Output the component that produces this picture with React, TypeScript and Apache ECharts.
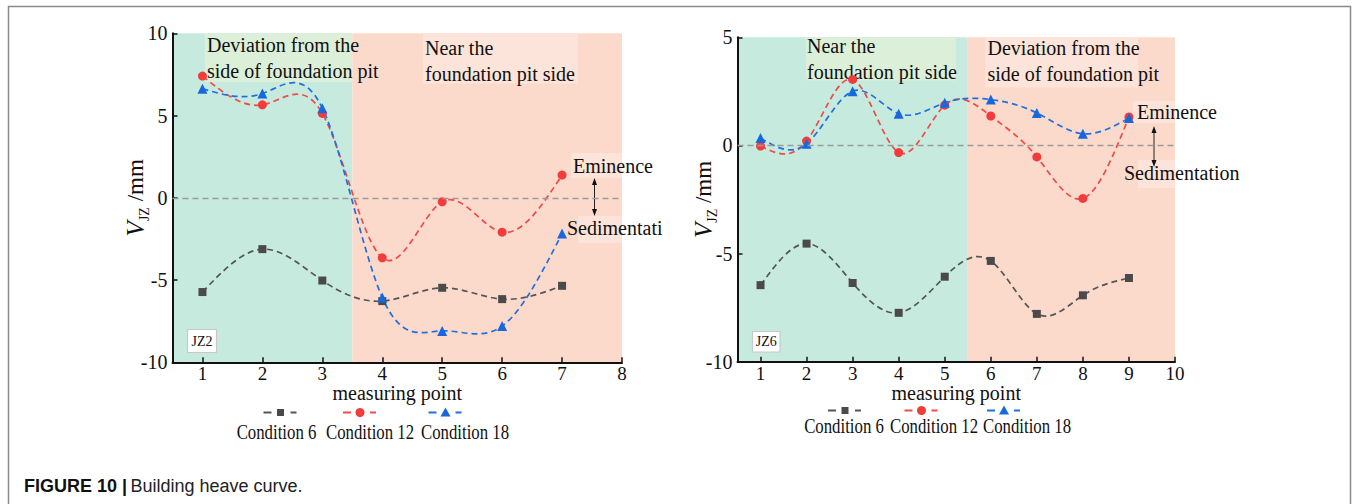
import React, { useEffect, useRef } from "react";
import * as echarts from "echarts";

// ---------- data ----------
const conditionNames = ["Condition 6", "Condition 12", "Condition 18"];

const leftPoints = [1, 2, 3, 4, 5, 6, 7];
const leftCond6 = [-5.73, -3.12, -5.03, -6.28, -5.47, -6.16, -5.35];
const leftCond12 = [7.4, 5.65, 5.13, -3.65, -0.24, -2.09, 1.38];
const leftCond18 = [6.63, 6.34, 5.45, -6.06, -8.09, -7.8, -2.17];
const leftXTicks = [1, 2, 3, 4, 5, 6, 7, 8];

const rightPoints = [1, 2, 3, 4, 5, 6, 7, 8, 9];
const rightCond6 = [-6.46, -4.54, -6.36, -7.74, -6.07, -5.34, -7.79, -6.93, -6.13];
const rightCond12 = [-0.03, 0.2, 3.05, -0.33, 1.86, 1.36, -0.53, -2.45, 1.32];
const rightCond18 = [0.34, 0.08, 2.51, 1.47, 1.97, 2.12, 1.5, 0.54, 1.27];
const rightXTicks = [1, 2, 3, 4, 5, 6, 7, 8, 9, 10];

// ---------- styles ----------
const SERIF = "'Liberation Serif', 'Times New Roman', serif";
const SANS = "'Liberation Sans', Arial, Helvetica, sans-serif";
const lineColors = ["#555555", "#f04a4a", "#1f6fe0"];
const markerColors = ["#4a4a4a", "#f23c3c", "#1668dc"];
const symbols = ["rect", "circle", "triangle"];
const symbolSizes = [8, 9, 10];
const GREEN = "#c6eadd";
const PINK = "#fcdacb";
const GREEN_BOX = "#dcefd8";
const PINK_BOX = "#fde4da";

// natural cubic spline slopes (uniform spacing)
function splineSlopes(xs: number[], ys: number[]): number[] {
  const n = ys.length - 1;
  const h = xs[1] - xs[0];
  const M = new Array(n + 1).fill(0);
  if (n >= 2) {
    const m = n - 1;
    const a: number[] = [], b: number[] = [], c: number[] = [], d: number[] = [];
    for (let i = 1; i < n; i++) {
      a.push(1); b.push(4); c.push(1);
      d.push((6 * (ys[i + 1] - 2 * ys[i] + ys[i - 1])) / (h * h));
    }
    for (let i = 1; i < m; i++) {
      const w = a[i] / b[i - 1];
      b[i] -= w * c[i - 1];
      d[i] -= w * d[i - 1];
    }
    const sol = new Array(m).fill(0);
    sol[m - 1] = d[m - 1] / b[m - 1];
    for (let i = m - 2; i >= 0; i--) sol[i] = (d[i] - c[i] * sol[i + 1]) / b[i];
    for (let i = 1; i < n; i++) M[i] = sol[i - 1];
  }
  const s: number[] = [];
  for (let i = 0; i < n; i++) {
    s.push((ys[i + 1] - ys[i]) / h - (h * (2 * M[i] + M[i + 1])) / 6);
  }
  s.push((ys[n] - ys[n - 1]) / h + (h * (M[n - 1] + 2 * M[n])) / 6);
  return s;
}

function splineSeries(name: string, xs: number[], ys: number[], color: string, axisIndex: number) {
  const slopes = splineSlopes(xs, ys);
  return {
    type: "custom",
    name,
    xAxisIndex: axisIndex,
    yAxisIndex: axisIndex,
    z: 2,
    silent: true,
    data: xs.map((x, i) => [x, ys[i]]),
    encode: { x: 0, y: 1 },
    renderItem: (params: any, api: any) => {
      if (params.dataIndex !== 0) return null;
      const h = xs[1] - xs[0];
      const p0 = api.coord([xs[0], ys[0]]);
      let d = `M${p0[0]},${p0[1]}`;
      for (let i = 0; i < xs.length - 1; i++) {
        const c1 = api.coord([xs[i] + h / 3, ys[i] + (slopes[i] * h) / 3]);
        const c2 = api.coord([xs[i + 1] - h / 3, ys[i + 1] - (slopes[i + 1] * h) / 3]);
        const p = api.coord([xs[i + 1], ys[i + 1]]);
        d += ` C${c1[0]},${c1[1]} ${c2[0]},${c2[1]} ${p[0]},${p[1]}`;
      }
      return {
        type: "path",
        shape: { pathData: d },
        style: { fill: "none", stroke: color, lineWidth: 1.7, lineDash: [6, 4] },
      };
    },
  };
}

function markerSeries(name: string, xs: number[], ys: number[], k: number, axisIndex: number) {
  return {
    type: "scatter",
    name,
    xAxisIndex: axisIndex,
    yAxisIndex: axisIndex,
    z: 3,
    symbol: symbols[k],
    symbolSize: symbolSizes[k],
    itemStyle: { color: markerColors[k], opacity: 1 },
    data: xs.map((x, i) => [x, ys[i]]),
  };
}

function backgroundSeries(axisIndex: number, split: number, max: number) {
  return {
    type: "line",
    xAxisIndex: axisIndex,
    yAxisIndex: axisIndex,
    z: 0,
    silent: true,
    data: [],
    markArea: {
      silent: true,
      z: 0,
      data: [
        [{ xAxis: 0.5, itemStyle: { color: GREEN } }, { xAxis: split }],
        [{ xAxis: split, itemStyle: { color: PINK } }, { xAxis: max }],
      ],
    },
    markLine: {
      silent: true,
      symbol: "none",
      label: { show: false },
      lineStyle: { color: "#9a9a9a", type: [6, 4], width: 1.3 },
      data: [{ yAxis: 0 }],
    },
  };
}

function xAxisOpt(gridIndex: number, max: number, ticks: number[]) {
  return {
    type: "value",
    gridIndex,
    min: 0.5,
    max,
    name: "measuring point",
    nameLocation: "middle",
    nameGap: 21,
    nameMoveOverlap: false,
    nameTextStyle: { fontFamily: SERIF, fontSize: 20, color: "#111", lineHeight: 20 },
    axisLine: { onZero: false, lineStyle: { color: "#111", width: 2 } },
    axisTick: { inside: true, length: 5, customValues: ticks, lineStyle: { color: "#111", width: 1.5 } },
    axisLabel: { customValues: ticks, fontFamily: SERIF, fontSize: 19, lineHeight: 19, color: "#111", margin: 2 },
    splitLine: { show: false },
  };
}

function yAxisOpt(gridIndex: number, min: number, max: number, gap: number) {
  return {
    type: "value",
    gridIndex,
    min,
    max,
    interval: 5,
    name: "{v|V}{s|JZ}{m| /mm}",
    nameLocation: "middle",
    nameRotate: 90,
    nameGap: gap,
    nameMoveOverlap: false,
    nameTextStyle: {
      color: "#111",
      rich: {
        v: { fontFamily: SERIF, fontStyle: "italic", fontSize: 25, color: "#111" },
        s: { fontFamily: SERIF, fontSize: 14, color: "#111", verticalAlign: "bottom", padding: [0, 0, -4, 0] },
        m: { fontFamily: SERIF, fontSize: 23, color: "#111" },
      },
    },
    axisLine: { show: true, onZero: false, lineStyle: { color: "#111", width: 2 } },
    axisTick: { show: true, inside: true, length: 5, lineStyle: { color: "#111", width: 1.5 } },
    axisLabel: { fontFamily: SERIF, fontSize: 20, color: "#111", margin: 5 },
    splitLine: { show: false },
  };
}

function textEl(text: string, x: number, y: number, extra: any = {}) {
  return {
    type: "text",
    x,
    y,
    z: 1,
    silent: true,
    style: {
      text,
      fontFamily: SERIF,
      fontSize: 20,
      lineHeight: 25.5,
      fill: "#111",
      textAlign: "left",
      textVerticalAlign: "middle",
      ...extra,
    },
  };
}

function boxEl(x: number, y: number, w: number, h: number, color: string) {
  return { type: "rect", z: 1, silent: true, shape: { x, y, width: w, height: h }, style: { fill: color } };
}

function arrowEls(x: number, y1: number, y2: number) {
  return [
    { type: "line", z: 1, silent: true, shape: { x1: x, y1: y1 + 4, x2: x, y2: y2 - 4 }, style: { stroke: "#222", lineWidth: 1 } },
    { type: "polygon", z: 1, silent: true, shape: { points: [[x, y1], [x - 2.5, y1 + 7], [x + 2.5, y1 + 7]] }, style: { fill: "#111" } },
    { type: "polygon", z: 1, silent: true, shape: { points: [[x, y2], [x - 2.5, y2 - 7], [x + 2.5, y2 - 7]] }, style: { fill: "#111" } },
  ];
}

function labelBox(text: string, x: number, y: number, w: number, h: number) {
  return [
    { type: "rect", z: 1, silent: true, shape: { x, y, width: w, height: h }, style: { fill: "#fff", stroke: "#c8c8c8", lineWidth: 1.2 } },
    textEl(text, x + w / 2, y + h / 2, { fontSize: 14, textAlign: "center" }),
  ];
}

function legendEls(cx: number[], lineY: number, labelCx: number[], labelY: number) {
  const els: any[] = [];
  cx.forEach((c, k) => {
    const col = lineColors[k];
    els.push({ type: "line", silent: true, shape: { x1: c - 17, y1: lineY, x2: c - 9, y2: lineY }, style: { stroke: col, lineWidth: 2 } });
    els.push({ type: "line", silent: true, shape: { x1: c + 10, y1: lineY, x2: c + 16, y2: lineY }, style: { stroke: col, lineWidth: 2 } });
    if (k === 0) {
      els.push({ type: "rect", silent: true, shape: { x: c - 3.5, y: lineY - 3.5, width: 7, height: 7 }, style: { fill: markerColors[0] } });
    } else if (k === 1) {
      els.push({ type: "circle", silent: true, shape: { cx: c, cy: lineY, r: 4.5 }, style: { fill: markerColors[1] } });
    } else {
      els.push({ type: "polygon", silent: true, shape: { points: [[c, lineY - 5], [c - 5, lineY + 4], [c + 5, lineY + 4]] }, style: { fill: markerColors[2] } });
    }
    els.push({
      type: "text",
      silent: true,
      x: labelCx[k],
      y: labelY,
      scaleX: 0.8,
      style: { text: conditionNames[k], fontFamily: SERIF, fontSize: 21, fill: "#111", textAlign: "center", textVerticalAlign: "middle" },
    });
  });
  return els;
}

export default function App() {
  const ref = useRef<HTMLDivElement>(null);

  useEffect(() => {
    if (!ref.current) return;
    const chart = echarts.init(ref.current, undefined, { renderer: "svg" });

    const graphics: any[] = [
      // frame
      { type: "rect", silent: true, shape: { x: 8.5, y: 6.5, width: 1342, height: 600 }, style: { fill: "none", stroke: "#8a8a8a", lineWidth: 1.5 } },
      // left annotations
      boxEl(205, 33.5, 147, 48.5, GREEN_BOX),
      textEl("Deviation from the\nside of foundation pit", 207, 57.8),
      boxEl(423, 33.5, 155, 50, PINK_BOX),
      textEl("Near the\nfoundation pit side", 425, 60.8),
      boxEl(571, 153, 51, 25, PINK_BOX),
      boxEl(578, 216, 44, 27, PINK_BOX),
      textEl("Eminence", 573, 166),
      textEl("Sedimentation", 567, 228, { width: 99, overflow: "truncate", ellipsis: "" }),
      ...arrowEls(594.5, 178, 216),
      ...labelBox("JZ2", 187.5, 329.5, 29, 23),
      // right annotations
      boxEl(806, 37.5, 150, 43, GREEN_BOX),
      textEl("Near the\nfoundation pit side", 807, 59.2),
      boxEl(985, 37.5, 153, 50, PINK_BOX),
      textEl("Deviation from the\nside of foundation pit", 987.5, 60.8),
      boxEl(1133, 101, 42, 22, PINK_BOX),
      boxEl(1138, 160, 37, 28, PINK_BOX),
      textEl("Eminence", 1137, 112.3),
      textEl("Sedimentation", 1124, 173.3),
      ...arrowEls(1154, 126, 167),
      ...labelBox("JZ6", 752.5, 331.5, 27.5, 20.5),
      // legends
      ...legendEls([280.5, 360, 445.5], 412.5, [276.5, 370, 465], 432),
      ...legendEls([845, 921.5, 1004], 410.5, [844, 934, 1027], 426),
      // caption
      {
        type: "text",
        silent: true,
        x: 24,
        y: 486,
        style: {
          text: "{b|FIGURE 10 |} {n|Building heave curve.}",
          textVerticalAlign: "middle",
          rich: {
            b: { fontFamily: SANS, fontWeight: "bold", fontSize: 18, fill: "#111" },
            n: { fontFamily: SANS, fontSize: 18, fill: "#222" },
          },
        },
      },
    ];

    const option: any = {
      animation: false,
      backgroundColor: "#ffffff",
      grid: [
        { left: 172.5, top: 33.3, width: 449.5, height: 329 },
        { left: 737.5, top: 37.3, width: 437.5, height: 324.4 },
      ],
      xAxis: [xAxisOpt(0, 8, leftXTicks), xAxisOpt(1, 10, rightXTicks)],
      yAxis: [yAxisOpt(0, -10, 10, 25), yAxisOpt(1, -10, 5, 22)],
      series: [
        backgroundSeries(0, 3.5, 8),
        backgroundSeries(1, 5.5, 10),
        splineSeries(conditionNames[0], leftPoints, leftCond6, lineColors[0], 0),
        splineSeries(conditionNames[1], leftPoints, leftCond12, lineColors[1], 0),
        splineSeries(conditionNames[2], leftPoints, leftCond18, lineColors[2], 0),
        splineSeries(conditionNames[0], rightPoints, rightCond6, lineColors[0], 1),
        splineSeries(conditionNames[1], rightPoints, rightCond12, lineColors[1], 1),
        splineSeries(conditionNames[2], rightPoints, rightCond18, lineColors[2], 1),
        markerSeries(conditionNames[0], leftPoints, leftCond6, 0, 0),
        markerSeries(conditionNames[1], leftPoints, leftCond12, 1, 0),
        markerSeries(conditionNames[2], leftPoints, leftCond18, 2, 0),
        markerSeries(conditionNames[0], rightPoints, rightCond6, 0, 1),
        markerSeries(conditionNames[1], rightPoints, rightCond12, 1, 1),
        markerSeries(conditionNames[2], rightPoints, rightCond18, 2, 1),
      ],
      graphic: { elements: graphics },
    };

    chart.setOption(option);
    return () => chart.dispose();
  }, []);

  return (
    <div
      ref={ref}
      style={{ position: "absolute", left: 0, top: 0, width: 1356, height: 504, background: "#fff" }}
    />
  );
}
